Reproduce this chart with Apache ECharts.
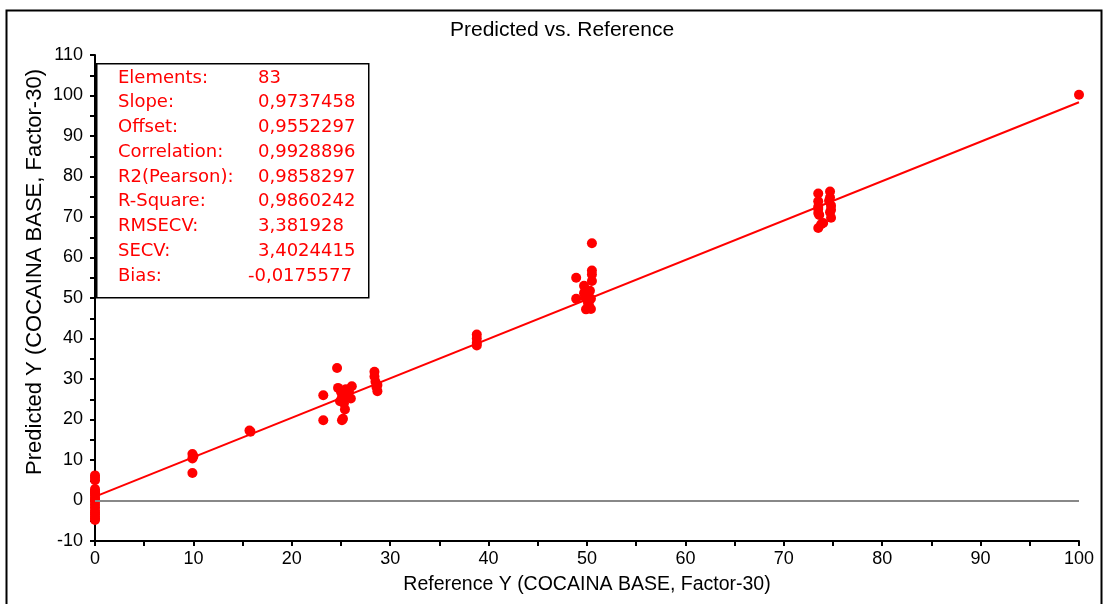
<!DOCTYPE html>
<html><head><meta charset="utf-8">
<script src="https://cdn.jsdelivr.net/npm/echarts@6/dist/echarts.min.js"></script>
<style>html,body{margin:0;padding:0;background:#fff}#c{width:1103px;height:604px}</style>
</head><body><div id="c"></div>
<script>
const refX = [0,0,0,0,0,0,0,0,0,0,0,0,0,0,0,0,0,0,0,
  9.9,10,9.9,9.9, 15.7,15.8,
  23.2,23.2,24.6,24.7,25.0,25.1,25.3,25.4,25.2,25.1,25.8,26.1,26.0,25.5,24.9,25.6,
  28.4,28.4,28.5,28.7,28.7,28.6,
  38.8,38.8,38.8,38.8,
  48.9,48.9,49.7,49.7,49.8,49.9,50.2,50.4,50.4,50.5,50.5,50.5,50.5,50.3,50.1,
  73.5,73.5,73.5,73.5,73.5,73.8,74.0,73.6,74.7,74.7,74.8,74.8,74.8,74.6,73.5,74.7,
  100];
const predY = [6.2,5.6,5.0,2.8,2.3,1.7,1.2,0.6,0.2,-0.3,-1.0,-1.7,-2.5,-3.0,-3.4,-4.0,-4.4,-4.8,2.0,
  11.5,10.9,10.4,6.8, 17.3,17.0,
  26.0,19.8,32.7,27.8,26.8,25.5,24.0,22.5,20.2,19.8,27.0,28.2,25.2,27.5,24.5,26.5,
  31.8,30.6,29.3,28.5,27.0,28.0,
  41.0,40.0,38.9,38.3,
  55.0,49.8,53.0,51.2,50.2,47.2,48.2,47.3,49.8,56.8,55.8,54.2,63.5,51.8,48.8,
  75.8,73.9,72.5,71.0,67.3,68.2,68.5,70.5,76.3,74.8,72.8,71.8,69.8,74.0,72.0,71.2,
  100.2];
const statLabels = ["Elements:","Slope:","Offset:","Correlation:","R2(Pearson):","R-Square:","RMSECV:","SECV:","Bias:"];
const statValues = ["83","0,9737458","0,9552297","0,9928896","0,9858297","0,9860242","3,381928","3,4024415","-0,0175577"];
const slope = 0.9737458, offset = 0.9552297;
const fitX = [0, 100];
const xTicks = {min:0, max:100, interval:10};
const yTicks = {min:-10, max:110, interval:10};
const titleText = 'Predicted vs. Reference';
const xName = 'Reference Y (COCAINA BASE, Factor-30)';
const yName = 'Predicted Y (COCAINA BASE, Factor-30)';

const pts = refX.map((x,i)=>[x, predY[i]]);
const fit = fitX.map(x=>[x, offset + slope*x]);
const font = "'Liberation Sans', Arial, sans-serif";
const lfont = "'DejaVu Sans', Verdana, sans-serif";
const red = '#ff0000';

const gText = [];
statLabels.forEach((l,i)=>{
  const y = 79 + i*24.75;
  gText.push({type:'text', left:118, top:y-10, z:101, style:{text:l, fill:red, font:'18px '+lfont}});
  const vx = statValues[i].startsWith('-') ? 248 : 258;
  gText.push({type:'text', left:vx, top:y-10, z:101, style:{text:statValues[i], fill:red, font:'18px '+lfont}});
});

const chart = echarts.init(document.getElementById('c'));
chart.setOption({
  animation:false,
  backgroundColor:'#fff',
  title:{text:titleText, left:445, top:15, textStyle:{fontFamily:font, fontSize:21, fontWeight:'normal', color:'#000'}},
  grid:{left:95, right:24, top:55, bottom:63},
  xAxis:{type:'value', min:xTicks.min, max:xTicks.max, interval:xTicks.interval,
    name:xName, nameLocation:'middle', nameGap:34,
    nameTextStyle:{fontFamily:font, fontSize:19.5, color:'#000'},
    axisLine:{onZero:false, lineStyle:{color:'#000', width:2}},
    axisTick:{show:true, length:5, lineStyle:{color:'#000', width:2}},
    minorTick:{show:true, splitNumber:2, length:5, lineStyle:{color:'#000', width:2}},
    splitLine:{show:false},
    axisLabel:{fontFamily:font, fontSize:18, color:'#000', margin:9}},
  yAxis:{type:'value', min:yTicks.min, max:yTicks.max, interval:yTicks.interval,
    axisLine:{show:true, onZero:false, lineStyle:{color:'#000', width:2}},
    axisTick:{show:true, length:5, lineStyle:{color:'#000', width:2}},
    minorTick:{show:true, splitNumber:2, length:5, lineStyle:{color:'#000', width:2}},
    splitLine:{show:false},
    axisLabel:{fontFamily:font, fontSize:18, color:'#000', margin:12}},
  series:[
    {type:'line', data:fit, symbol:'none', lineStyle:{color:red, width:2}, z:3,
     markLine:{silent:true, symbol:'none', label:{show:false}, lineStyle:{color:'#888', width:2, type:'solid'}, data:[{yAxis:0}]}},
    {type:'scatter', data:pts, symbolSize:10, itemStyle:{color:red, opacity:1}, z:4}
  ],
  graphic:[
    {type:'rect', left:4, top:8, z:0, shape:{width:1095, height:600}, style:{fill:'none', stroke:'#000', lineWidth:2}},
    {type:'text', x:35, y:272, rotation:Math.PI/2, z:10,
     style:{text:yName, fill:'#000', font:'22px '+font, align:'center', verticalAlign:'middle'}},
    {type:'rect', left:96, top:63, z:100, shape:{width:272, height:234}, style:{fill:'#fff', stroke:'#000', lineWidth:1.5}},
    ...gText
  ]
});
</script></body></html>
